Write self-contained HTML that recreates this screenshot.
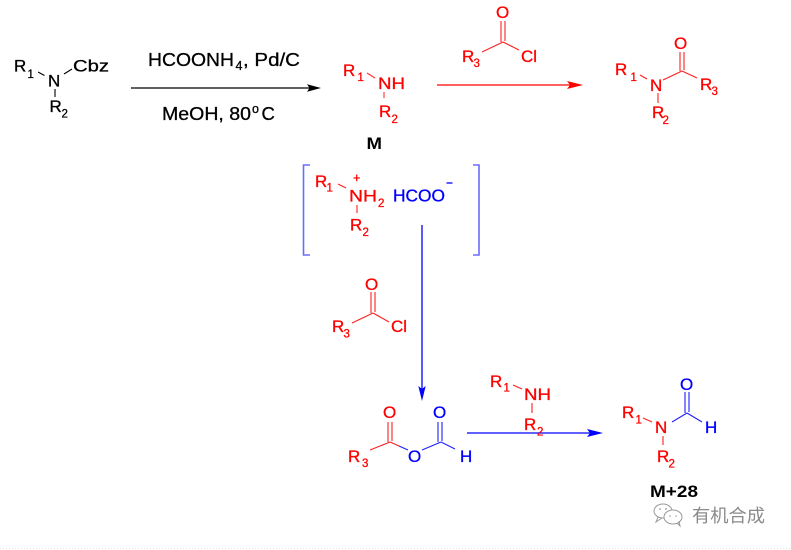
<!DOCTYPE html>
<html>
<head>
<meta charset="utf-8">
<style>
html,body{margin:0;padding:0;background:#fff;}
svg{display:block;}
text{font-family:"Liberation Sans", Arial, sans-serif;}
.k text{stroke:#000;stroke-width:0.3;}
.r text{stroke:#ff0000;stroke-width:0.3;}
.b text{stroke:#0000ff;stroke-width:0.3;}
</style>
</head>
<body>
<svg width="791" height="550" viewBox="0 0 791 550" xmlns="http://www.w3.org/2000/svg">
<rect width="791" height="550" fill="#fff"/>

<!-- Top-left starting material (black) -->
<g class="k" fill="#000" font-size="17">
  <text x="14" y="71.5">R</text>
  <text x="27.5" y="78" font-size="11.5">1</text>
  <text x="48" y="86.5">N</text>
  <text x="73" y="71.5" textLength="36" lengthAdjust="spacingAndGlyphs">Cbz</text>
  <text x="49.5" y="112">R</text>
  <text x="61.5" y="117.5" font-size="11.5">2</text>
</g>
<g stroke="#000" stroke-width="1.1">
  <line x1="38" y1="72" x2="44.5" y2="75.5"/>
  <line x1="64" y1="74" x2="72" y2="69"/>
  <line x1="55" y1="89" x2="55" y2="97"/>
</g>

<!-- Conditions -->
<g class="k" fill="#000" font-size="18.5">
  <text x="148" y="66" textLength="86" lengthAdjust="spacingAndGlyphs">HCOONH</text>
  <text x="235.5" y="70" font-size="12.5">4</text>
  <text x="243" y="66" textLength="57" lengthAdjust="spacingAndGlyphs">, Pd/C</text>
  <text x="162" y="120" textLength="89" lengthAdjust="spacingAndGlyphs">MeOH, 80</text>
  <text x="252" y="113" font-size="12.5">o</text>
  <text x="261.5" y="120">C</text>
</g>
<line x1="131" y1="88" x2="310" y2="88" stroke="#000" stroke-width="1.3"/>
<polygon points="321,88 307,84.3 309.5,88 307,91.7" fill="#000"/>

<!-- Amine M -->
<g class="r" fill="#ff0000" font-size="17">
  <text x="343" y="76">R</text>
  <text x="357.5" y="81" font-size="11.5">1</text>
  <text x="378" y="89" textLength="27" lengthAdjust="spacingAndGlyphs">NH</text>
  <text x="379" y="117">R</text>
  <text x="391.5" y="123" font-size="11.5">2</text>
</g>
<g stroke="#ff3030" stroke-width="1.1">
  <line x1="367" y1="73" x2="375" y2="78"/>
  <line x1="384" y1="92" x2="384" y2="98"/>
</g>
<text x="366.5" y="149" font-size="17" font-weight="bold" fill="#000" textLength="15.5" lengthAdjust="spacingAndGlyphs">M</text>

<!-- Red arrow -->
<line x1="437" y1="85" x2="570" y2="85" stroke="#ff0000" stroke-width="1.3"/>
<polygon points="583,85 567,81 570,85 567,89" fill="#ff0000"/>

<!-- Acyl chloride (top) -->
<g class="r" fill="#ff0000" font-size="17">
  <text x="496" y="18">O</text>
  <text x="462" y="62">R</text>
  <text x="473.5" y="67" font-size="11.5">3</text>
  <text x="521" y="62">Cl</text>
</g>
<g stroke="#ff2020" stroke-width="1.1">
  <line x1="501" y1="21" x2="501" y2="42"/>
  <line x1="505" y1="21" x2="505" y2="41"/>
  <line x1="482" y1="52" x2="503" y2="42"/>
  <line x1="503" y1="42" x2="519" y2="50"/>
</g>

<!-- Amide product -->
<g class="r" fill="#ff0000" font-size="17">
  <text x="615" y="75">R</text>
  <text x="630.5" y="81" font-size="11.5">1</text>
  <text x="650" y="91">N</text>
  <text x="674" y="49">O</text>
  <text x="700" y="90">R</text>
  <text x="711.5" y="95" font-size="11.5">3</text>
  <text x="652" y="118">R</text>
  <text x="662.5" y="124" font-size="11.5">2</text>
</g>
<g stroke="#ff2020" stroke-width="1.1">
  <line x1="640" y1="75" x2="647" y2="79"/>
  <line x1="663" y1="80" x2="682" y2="71"/>
  <line x1="680" y1="52" x2="680" y2="71"/>
  <line x1="684" y1="52" x2="684" y2="70"/>
  <line x1="682" y1="71" x2="697" y2="78"/>
  <line x1="658" y1="93" x2="658" y2="103"/>
</g>

<!-- Brackets -->
<g stroke="#6b6bff" stroke-width="1.6" fill="none">
  <polyline points="310,165 303.5,165 303.5,255 310,255"/>
  <polyline points="473,165 479,165 479,255 473,255"/>
</g>

<!-- Ammonium formate -->
<g class="r" fill="#ff0000" font-size="17">
  <text x="315" y="187">R</text>
  <text x="326.5" y="191.5" font-size="11.5">1</text>
  <text x="353" y="182" font-size="12.5">+</text>
  <text x="349" y="201.5" textLength="28" lengthAdjust="spacingAndGlyphs">NH</text>
  <text x="378" y="207" font-size="11.5">2</text>
  <text x="350" y="230.5">R</text>
  <text x="362.5" y="236" font-size="11.5">2</text>
</g>
<g stroke="#ff2020" stroke-width="1.1">
  <line x1="338" y1="184" x2="346" y2="188"/>
  <line x1="357" y1="205" x2="357" y2="213"/>
</g>
<g class="b"><text x="393" y="201.5" font-size="17.5" fill="#0000ff" textLength="52" lengthAdjust="spacingAndGlyphs">HCOO</text></g>
<line x1="446.5" y1="183" x2="452.5" y2="183" stroke="#0000ff" stroke-width="1.3"/>

<!-- Blue vertical arrow -->
<line x1="422" y1="225" x2="422" y2="390" stroke="#0000ff" stroke-width="1.3"/>
<polygon points="422,401 418.3,386 422,389 425.7,386" fill="#0000ff"/>

<!-- Acyl chloride (middle) -->
<g class="r" fill="#ff0000" font-size="17">
  <text x="365" y="290">O</text>
  <text x="332" y="332">R</text>
  <text x="343.5" y="337.5" font-size="11.5">3</text>
  <text x="391" y="332">Cl</text>
</g>
<g stroke="#ff2020" stroke-width="1.1">
  <line x1="371" y1="292" x2="371" y2="313"/>
  <line x1="375" y1="292" x2="375" y2="312"/>
  <line x1="352" y1="323" x2="373" y2="313"/>
  <line x1="373" y1="313" x2="389" y2="322"/>
</g>

<!-- Mixed anhydride -->
<g class="r" font-size="17" fill="#ff0000">
  <text x="383" y="418">O</text>
  <text x="348" y="462">R</text>
  <text x="362" y="467" font-size="11.5">3</text>
</g>
<g class="b" font-size="17" fill="#0000ff">
  <text x="408" y="462">O</text>
  <text x="433" y="418">O</text>
  <text x="460" y="462">H</text>
</g>
<g stroke-width="1.1">
  <line x1="388" y1="422" x2="388" y2="442" stroke="#ff2020"/>
  <line x1="392" y1="422" x2="392" y2="441" stroke="#ff2020"/>
  <line x1="370" y1="450" x2="390" y2="442" stroke="#ff2020"/>
  <line x1="390" y1="442" x2="399" y2="446" stroke="#ff2020"/>
  <line x1="399" y1="446" x2="408" y2="450" stroke="#2020ff"/>
  <line x1="422" y1="450" x2="441" y2="442" stroke="#2020ff"/>
  <line x1="438" y1="422" x2="438" y2="442" stroke="#2020ff"/>
  <line x1="442" y1="422" x2="442" y2="441" stroke="#2020ff"/>
  <line x1="441" y1="442" x2="455" y2="449" stroke="#2020ff"/>
</g>

<!-- Blue horizontal arrow -->
<line x1="467" y1="433" x2="590" y2="433" stroke="#0000ff" stroke-width="1.3"/>
<polygon points="603,433 587,429 590,433 587,437" fill="#0000ff"/>

<!-- Reagent amine -->
<g class="r" fill="#ff0000" font-size="17">
  <text x="490" y="387">R</text>
  <text x="503.5" y="391.5" font-size="11.5">1</text>
  <text x="524" y="400" textLength="27" lengthAdjust="spacingAndGlyphs">NH</text>
  <text x="524" y="430">R</text>
  <text x="537" y="435.5" font-size="11.5">2</text>
</g>
<g stroke="#ff2020" stroke-width="1.1">
  <line x1="513" y1="385" x2="522" y2="389"/>
  <line x1="532" y1="403" x2="532" y2="413"/>
</g>

<!-- Formamide product -->
<g class="r" font-size="17" fill="#ff0000">
  <text x="622" y="418">R</text>
  <text x="635.5" y="423.5" font-size="11.5">1</text>
  <text x="655" y="433">N</text>
  <text x="657" y="462">R</text>
  <text x="668.5" y="467.5" font-size="11.5">2</text>
</g>
<g class="b" font-size="17" fill="#0000ff">
  <text x="680" y="390">O</text>
  <text x="705" y="433">H</text>
</g>
<g stroke-width="1.1">
  <line x1="643" y1="418" x2="652" y2="422" stroke="#ff2020"/>
  <line x1="663" y1="436" x2="663" y2="445" stroke="#ff2020"/>
  <line x1="672" y1="422" x2="687" y2="413" stroke="#2020ff"/>
  <line x1="685" y1="392" x2="685" y2="413" stroke="#2020ff"/>
  <line x1="689" y1="392" x2="689" y2="412" stroke="#2020ff"/>
  <line x1="687" y1="413" x2="702" y2="422" stroke="#2020ff"/>
</g>
<text x="650" y="497" font-size="17" font-weight="bold" fill="#000" textLength="48" lengthAdjust="spacingAndGlyphs">M+28</text>

<!-- Watermark -->
<g fill="none" stroke="#9a9a9a" stroke-width="1">
  <ellipse cx="663" cy="511" rx="9" ry="7"/>
  <ellipse cx="673" cy="517" rx="9" ry="7" fill="#fff"/>
  <path d="M658 517 L656 522 L662 518"/>
  <path d="M677 523 L680 526 L679 521"/>
</g>
<g fill="#9a9a9a">
  <circle cx="660" cy="509" r="0.9"/>
  <circle cx="666" cy="509" r="0.9"/>
  <circle cx="670" cy="516" r="0.8"/>
  <circle cx="676" cy="516" r="0.8"/>
</g>
<text x="692" y="522" font-size="18" fill="#8a8a8a" font-family="'Liberation Sans','Noto Sans CJK SC',sans-serif" textLength="73" lengthAdjust="spacingAndGlyphs">有机合成</text>

<!-- bottom faint dotted line -->
<line x1="0" y1="548.5" x2="791" y2="548.5" stroke="#e0e0e0" stroke-width="1" stroke-dasharray="1,2"/>
</svg>
</body>
</html>
